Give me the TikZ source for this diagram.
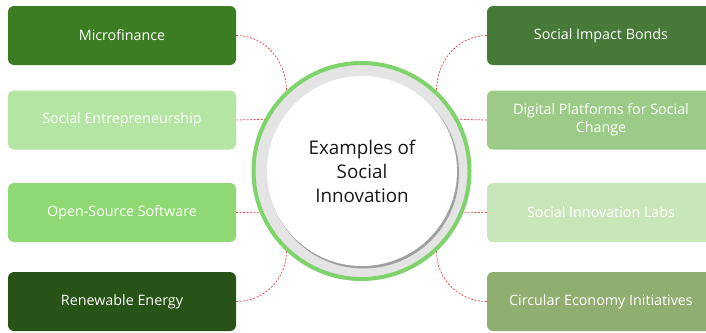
\documentclass[tikz,border=0pt]{standalone}
\usepackage{fontspec}
\setmainfont{Open Sans}
\definecolor{cA}{HTML}{3B7D23}
\definecolor{cB}{HTML}{B4E5A2}
\definecolor{cC}{HTML}{8ED973}
\definecolor{cD}{HTML}{275317}
\definecolor{rA}{HTML}{477A38}
\definecolor{rB}{HTML}{9BCB86}
\definecolor{rC}{HTML}{C9E5BA}
\definecolor{rD}{HTML}{8FAE70}
\definecolor{ringgreen}{HTML}{7ED46A}
\definecolor{ringgray}{HTML}{E4E4E4}
\definecolor{shadowgray}{HTML}{A0A0A0}
\definecolor{linkred}{HTML}{E8504F}
\begin{document}
\begin{tikzpicture}[x=1pt,y=1pt,
  box/.style={rounded corners=6pt, minimum width=228pt, minimum height=59pt, text=white,
    font=\fontsize{14.3}{18}\selectfont, align=center, inner sep=0pt},
  conn/.style={draw=linkred, line width=0.8pt, dash pattern=on 2pt off 1.5pt}]
\useasboundingbox (0,0) rectangle (706,-332);
\clip (0,0) rectangle (706,-332);
% left boxes
\node[box, fill=cA] (mf) at (122,-35.5) {Microfinance};
\node[box, fill=cB] (se) at (122,-120) {Social Entrepreneurship};
\node[box, fill=cC] (os) at (122,-212.5) {Open-Source Software};
\node[box, fill=cD] (re) at (122,-301.5) {Renewable Energy};
% right boxes
\node[box, fill=rA] (sib) at (601,-35.5) {Social Impact Bonds};
\node[box, fill=rB] (dp) at (601,-120) {Digital Platforms for Social\\Change};
\node[box, fill=rC] (sil) at (601,-212.5) {Social Innovation Labs};
\node[box, fill=rD] (cei) at (601,-301.5) {Circular Economy Initiatives};
% central circle
\node[circle, minimum size=216pt, draw=ringgreen, line width=4pt, fill=ringgray] (c) at (361.5,-171) {};
\fill[shadowgray] (363.5,-173) circle (95.5);
\node[circle, fill=white, minimum size=190pt, inner sep=0pt, align=center,
  font=\fontsize{18.8}{24}\selectfont, text=black!90] (t) at (362,-171) {Examples of\\Social\\Innovation};
% connectors
\draw[conn] (mf.east) to[out=0,in=90] (c.133);
\draw[conn] (se.east) -- (c.152);
\draw[conn] (os.east) -- (c.202);
\draw[conn] (re.east) to[out=0,in=-90] (c.227);
\draw[conn] (sib.west) to[out=180,in=90] (c.47);
\draw[conn] (dp.west) -- (c.28);
\draw[conn] (sil.west) -- (c.-22);
\draw[conn] (cei.west) to[out=180,in=-90] (c.-47);
\end{tikzpicture}
\end{document}
